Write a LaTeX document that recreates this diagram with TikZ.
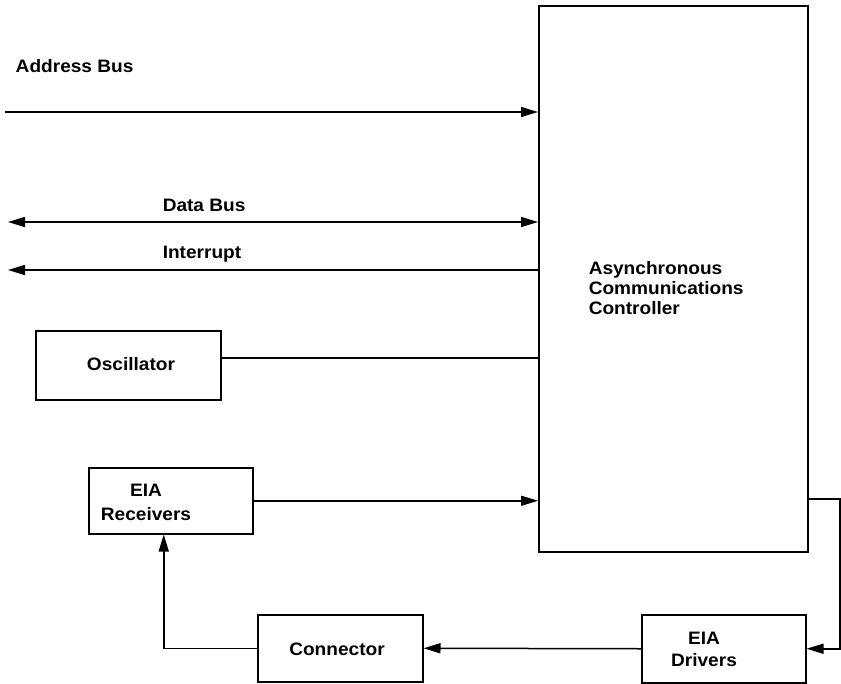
\documentclass[tikz,border=0pt]{standalone}
\usepackage{fontspec}
\setmainfont{Liberation Sans}[FakeStretch=1.06]
\usetikzlibrary{arrows.meta,calc}
\begin{document}
\begin{tikzpicture}[x=1pt,y=-1pt,
  line width=1.5pt,
  every node/.style={font=\fontsize{18}{20}\selectfont\bfseries},
  box/.style={draw,line width=1.5pt,rectangle,inner sep=0pt,anchor=north west},
  lbl/.style={inner sep=0pt,anchor=base west},
  tip/.style={-{Triangle[length=17pt,width=10pt]}},
  tips/.style={{Triangle[length=17pt,width=10pt]}-{Triangle[length=17pt,width=10pt]}}]
\useasboundingbox (0,0) rectangle (841,683);
% boxes
\node[box,minimum width=269pt,minimum height=546pt] (ctrl) at (538,5) {};
\node[box,minimum width=185pt,minimum height=69pt] (osc) at (35,330) {};
\node[box,minimum width=164pt,minimum height=66pt] (rec) at (88,467) {};
\node[box,minimum width=165pt,minimum height=67pt] (conn) at (257,614) {};
\node[box,minimum width=164pt,minimum height=68pt] (drv) at (641,614) {};
% texts
\node[lbl,align=left,anchor=north west] (ctrlT) at (588,261) {Asynchronous\\Communications\\Controller};
\node[inner sep=0pt] (oscT) at (131,364) {Oscillator};
\node[inner sep=0pt,align=center] (recT) at (146,502) {EIA\\[4pt]Receivers};
\node[inner sep=0pt] (connT) at (337,649) {Connector};
\node[inner sep=0pt,align=center] (drvT) at (704,649) {EIA\\[2pt]Drivers};
\node[lbl] (addrL) at (15,72) {Address Bus};
\node[lbl] (dataL) at (162,211) {Data Bus};
\node[lbl] (intL) at (162,258) {Interrupt};
% free ends
\coordinate (addrS) at (5,112);
\coordinate (dataS) at (8,222);
\coordinate (intE) at (8,270);
\coordinate (loopX) at (840,499);
% connectors
\draw[tip] (addrS) -- (addrS -| ctrl.west);
\draw[tips] (dataS) -- (dataS -| ctrl.west);
\draw[tip] (intE -| ctrl.west) -- (intE);
\draw ([yshift=7.5pt]osc.east) -- ([yshift=7.5pt]osc.east -| ctrl.west);
\draw[tip] (rec.east) -- (rec.east -| ctrl.west);
\draw[tip] (loopX -| ctrl.east) -- (loopX) |- (drv.east);
\draw[tip] (drv.west) -- (conn.east);
\draw[tip] (conn.west) -| ([xshift=-7pt]rec.south);
\end{tikzpicture}
\end{document}
